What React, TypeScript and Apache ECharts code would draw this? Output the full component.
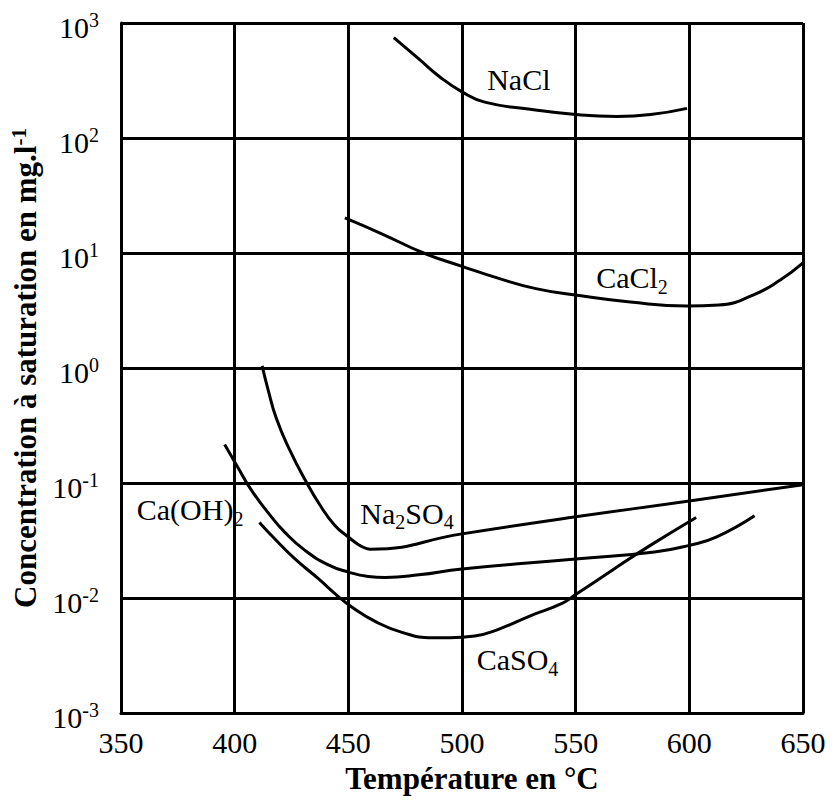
import React, { useEffect, useRef } from 'react';
import * as echarts from 'echarts';

const FONT = "'Liberation Serif', 'Times New Roman', serif";

// Axis ranges
const X_MIN = 350;
const X_MAX = 650;
const X_STEP = 50;
const Y_MIN = 0.001;
const Y_MAX = 1000;

// NaCl
const naclT = [470, 481, 490, 500, 510, 530, 550, 568, 583, 599];
const naclV = [745, 487, 343, 252, 205, 178, 160, 154, 160, 181];

// CaCl2
const cacl2T = [448.5, 464.7, 483.1, 500, 515.5, 532.5, 550, 574, 599, 613, 628, 640, 650];
const cacl2V = [20.2, 14.7, 10, 7.66, 6.07, 4.9, 4.31, 3.75, 3.46, 3.53, 4.31, 5.82, 8.19];

// Na2SO4
const na2so4T = [412.1, 414.6, 418.2, 424.1, 431.4, 437.3, 444.1, 450, 454.5, 458.1, 459.6, 500, 550, 600, 650];
const na2so4V = [1.045, 0.659, 0.371, 0.196, 0.103, 0.0653, 0.0427, 0.0339, 0.0291, 0.0269, 0.0266, 0.0361, 0.0508, 0.0697, 0.0967];

// Ca(OH)2
const caoh2T = [395.6, 401.3, 407.2, 414.6, 422, 430.8, 441.2, 450, 458.8, 466.2, 481, 500, 550, 584.7, 600, 611.8, 628.7];
const caoh2V = [0.216, 0.138, 0.0877, 0.0555, 0.0374, 0.0261, 0.0194, 0.0168, 0.0154, 0.0151, 0.0159, 0.0179, 0.0218, 0.0251, 0.0287, 0.0338, 0.0518];

// CaSO4
const caso4T = [410.9, 417.6, 426.4, 436.7, 445.6, 451.5, 461.8, 473.6, 486.9, 494.6, 505.6, 515.5, 529.8, 544, 550, 566.4, 581.6, 603];
const caso4V = [0.0454, 0.0327, 0.022, 0.0148, 0.0103, 0.00835, 0.00626, 0.00503, 0.00451, 0.00451, 0.00467, 0.00529, 0.00697, 0.00897, 0.0107, 0.0176, 0.0277, 0.0502];

// Curve labels (text with rich subscripts) and their anchor in data coordinates
const labelTexts = ['NaCl', 'CaCl{sub|2}', 'Na{sub|2}SO{sub|4}', 'Ca(OH){sub|2}', 'CaSO{sub|4}'];
const labelT = [525, 574.8, 475.8, 380.4, 524.4];
const labelV = [323, 6.07, 0.0543, 0.0587, 0.0029];

const seriesNames = ['NaCl', 'CaCl2', 'Na2SO4', 'Ca(OH)2', 'CaSO4'];
const seriesT = [naclT, cacl2T, na2so4T, caoh2T, caso4T];
const seriesV = [naclV, cacl2V, na2so4V, caoh2V, caso4V];

const xTitle = 'Température en °C';
const yTitle = 'Concentration à saturation en mg.l{sup|-1}';

export default function App() {
  const ref = useRef<HTMLDivElement>(null);

  useEffect(() => {
    if (!ref.current) return;
    const chart = echarts.init(ref.current, undefined, { renderer: 'svg' });

    const series = seriesNames.map((name, i) => ({
      name,
      type: 'line',
      data: seriesT[i].map((t, j) => [t, seriesV[i][j]]),
      smooth: 0.5,
      symbol: 'none',
      silent: true,
      lineStyle: { color: '#000', width: 3 },
      markPoint: {
        symbol: 'circle',
        symbolSize: 0,
        silent: true,
        itemStyle: { color: 'transparent' },
        label: {
          show: true,
          position: 'inside',
          formatter: labelTexts[i],
          color: '#000',
          fontFamily: FONT,
          fontSize: 30,
          rich: {
            sub: {
              fontFamily: FONT,
              fontSize: 20,
              color: '#000',
              verticalAlign: 'middle',
              padding: [18, 0, 0, 0],
            },
          },
        },
        data: [{ coord: [labelT[i], labelV[i]] }],
      },
    }));

    chart.setOption({
      animation: false,
      backgroundColor: '#fff',
      grid: { left: 121, right: 29, top: 23, bottom: 90, containLabel: false },
      xAxis: {
        type: 'value',
        min: X_MIN,
        max: X_MAX,
        interval: X_STEP,
        name: xTitle,
        nameLocation: 'middle',
        nameGap: 50,
        nameTextStyle: {
          fontFamily: FONT,
          fontSize: 31,
          fontWeight: 'bold',
          color: '#000',
          padding: [0, 0, 0, 20],
        },
        axisLine: { show: true, lineStyle: { color: '#000', width: 3 } },
        axisTick: { show: false },
        axisLabel: { fontFamily: FONT, fontSize: 30, color: '#000', margin: 14 },
        splitLine: { show: true, lineStyle: { color: '#000', width: 3 } },
      },
      yAxis: {
        type: 'log',
        logBase: 10,
        min: Y_MIN,
        max: Y_MAX,
        name: yTitle,
        nameLocation: 'middle',
        nameGap: 70,
        nameTextStyle: {
          fontFamily: FONT,
          fontSize: 31,
          fontWeight: 'bold',
          color: '#000',
          rich: {
            sup: {
              fontFamily: FONT,
              fontSize: 21,
              fontWeight: 'bold',
              color: '#000',
              verticalAlign: 'middle',
              padding: [0, 0, 14, 0],
            },
          },
        },
        axisLine: { show: true, lineStyle: { color: '#000', width: 3 } },
        axisTick: { show: false },
        axisLabel: {
          margin: 22,
          color: '#000',
          fontFamily: FONT,
          fontSize: 30,
          formatter: (v: number) => `{m|10}{e|${Math.round(Math.log10(v))}}`,
          rich: {
            m: {
              fontFamily: FONT,
              fontSize: 30,
              color: '#000',
              verticalAlign: 'middle',
              padding: [8, 0, 0, 0],
            },
            e: {
              fontFamily: FONT,
              fontSize: 20,
              color: '#000',
              verticalAlign: 'middle',
              padding: [0, 0, 6, 0],
            },
          },
        },
        splitLine: { show: true, lineStyle: { color: '#000', width: 3 } },
      },
      series,
    });

    return () => {
      chart.dispose();
    };
  }, []);

  return (
    <div
      ref={ref}
      style={{ position: 'fixed', left: 0, top: 0, width: 832, height: 803, background: '#fff' }}
    />
  );
}
